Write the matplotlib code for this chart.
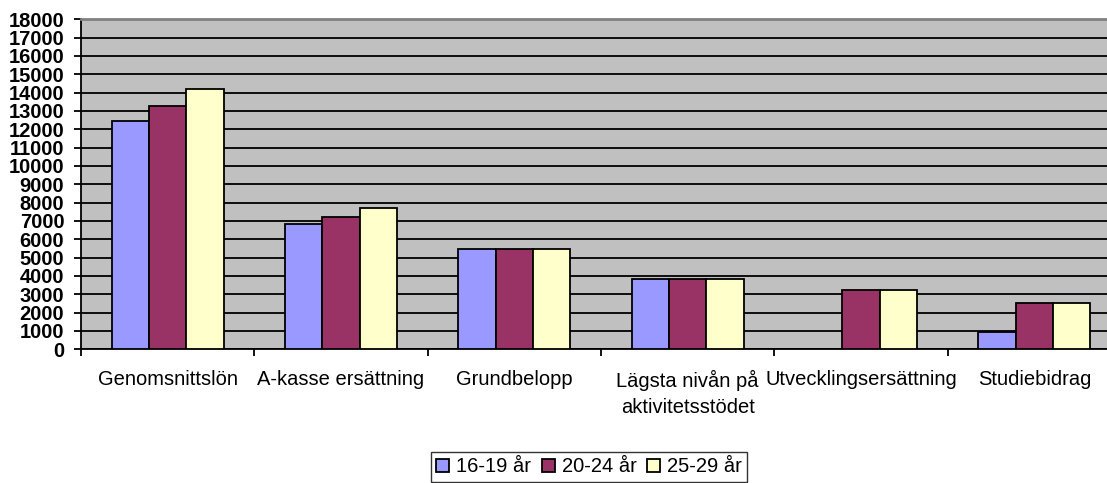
import matplotlib
matplotlib.use('Agg')
import matplotlib.pyplot as plt
import numpy as np

# data
categories = ['Genomsnittslön', 'A-kasse ersättning', 'Grundbelopp',
              'Lägsta nivån på\naktivitetsstödet', 'Utvecklingsersättning', 'Studiebidrag']
series = ['16-19 år', '20-24 år', '25-29 år']
v1619 = [12450, 6840, 5490, 3850, 0, 960]
v2024 = [13290, 7240, 5490, 3850, 3240, 2510]
v2529 = [14200, 7730, 5490, 3850, 3240, 2510]
colors = ['#9999FF', '#993366', '#FFFFCC']

plt.rcParams['font.family'] = ['Liberation Sans', 'DejaVu Sans']

fig = plt.figure(figsize=(11.07, 4.83), dpi=100)
W, H = 1107, 483
ax = fig.add_axes([81 / W, (H - 349.3) / H, 1040 / W, 330 / H])
ax.set_facecolor('#C0C0C0')

x = np.arange(len(categories))
bw = 0.215
for i, (vals, c, lab) in enumerate(zip([v1619, v2024, v2529], colors, series)):
    xs = x + (i - 1) * bw
    vv = np.array(vals, dtype=float)
    mask = vv > 0
    ax.bar(xs[mask], vv[mask], width=bw, color=c, edgecolor='black',
           linewidth=1.3, label=lab, zorder=3)

ax.set_xlim(-0.5, len(categories) - 0.5)
ax.set_ylim(0, 18000)
ax.set_yticks(np.arange(0, 18001, 1000))
ax.set_yticklabels([str(v) for v in range(0, 18001, 1000)], fontsize=14.5, fontweight='bold')
ax.yaxis.grid(True, color='black', linewidth=1.3, zorder=1)
ax.set_axisbelow(True)

ax.set_xticks(x)
ax.set_xticklabels(categories, fontsize=14.5, linespacing=1.45)
ax.tick_params(axis='x', which='major', length=0, pad=15)
ax.set_xticks(np.arange(-0.5, len(categories), 1), minor=True)
ax.tick_params(axis='x', which='minor', length=5, width=1.3, color='black')
ax.tick_params(axis='y', length=5, width=1.3, pad=7)

for s in ['left', 'bottom']:
    ax.spines[s].set_color('black')
    ax.spines[s].set_linewidth(1.3)
ax.spines['top'].set_color('#808080')
ax.spines['top'].set_linewidth(2)
ax.spines['right'].set_visible(False)

leg = fig.legend(loc='center', bbox_to_anchor=(589 / W, 1 - 467 / H), ncol=3,
                 fontsize=14.5, frameon=True, fancybox=False, edgecolor='black',
                 handlelength=0.65, handleheight=0.65, handletextpad=0.35,
                 columnspacing=0.5, borderpad=0.25)
leg.get_frame().set_linewidth(1.0)

fig.savefig('out.png', dpi=100)
